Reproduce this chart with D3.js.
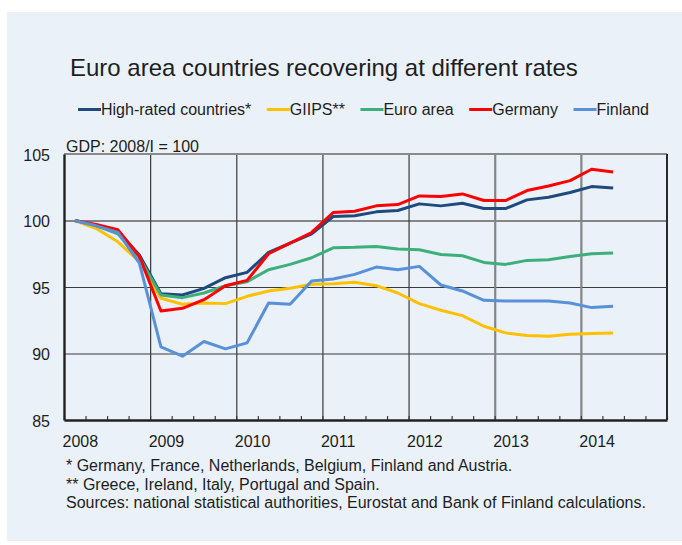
<!DOCTYPE html>
<html>
<head>
<meta charset="utf-8">
<script src="https://cdn.jsdelivr.net/npm/d3@7"></script>
<style>
  body { margin: 0; background: #fff; }
  svg text { font-family: "Liberation Sans", Arial, sans-serif; fill: #1e1e1e; }
</style>
</head>
<body>
<svg id="chart" width="682" height="545"></svg>
<script>
// GDP index, 2008/I = 100, quarterly
const quarters = ["2008Q1","2008Q2","2008Q3","2008Q4","2009Q1","2009Q2","2009Q3","2009Q4",
  "2010Q1","2010Q2","2010Q3","2010Q4","2011Q1","2011Q2","2011Q3","2011Q4",
  "2012Q1","2012Q2","2012Q3","2012Q4","2013Q1","2013Q2","2013Q3","2013Q4","2014Q1","2014Q2"];

const highRated = [100, 99.6, 99.2, 97.4, 94.5, 94.4, 94.9, 95.7, 96.1, 97.6, 98.3, 99.0, 100.3,
  100.35, 100.65, 100.75, 101.25, 101.1, 101.3, 100.9, 100.9, 101.55, 101.75, 102.1, 102.55, 102.45];
const giips = [100, 99.4, 98.4, 96.9, 94.15, 93.7, 93.8, 93.75, 94.3, 94.7, 94.9, 95.2, 95.25,
  95.35, 95.1, 94.55, 93.75, 93.25, 92.85, 92.05, 91.55, 91.35, 91.3, 91.45, 91.5, 91.55];
const euroArea = [100, 99.6, 99.0, 97.2, 94.4, 94.2, 94.55, 95.1, 95.4, 96.3, 96.7, 97.2, 97.95,
  97.98, 98.05, 97.85, 97.8, 97.45, 97.35, 96.85, 96.7, 97.0, 97.05, 97.3, 97.5, 97.55];
const germany = [100, 99.7, 99.3, 97.3, 93.2, 93.4, 94.05, 95.1, 95.5, 97.5, 98.3, 99.1, 100.6,
  100.7, 101.1, 101.2, 101.85, 101.8, 102.0, 101.5, 101.5, 102.25, 102.6, 103.0, 103.85, 103.65];
const finland = [100, 99.6, 99.1, 96.8, 90.5, 89.8, 90.9, 90.35, 90.8, 93.8, 93.7, 95.45, 95.6,
  95.95, 96.5, 96.3, 96.55, 95.15, 94.7, 94.0, 93.95, 93.95, 93.95, 93.8, 93.45, 93.55];

const seriesNames = ["High-rated countries*", "GIIPS**", "Euro area", "Germany", "Finland"];
const seriesColors = ["#1f4a7e", "#ffc000", "#3daf7a", "#ff0000", "#5891d8"];
const yTicks = [85, 90, 95, 100, 105];
const yearLabels = [2008, 2009, 2010, 2011, 2012, 2013, 2014];

const title = "Euro area countries recovering at different rates";
const unitLabel = "GDP: 2008/I = 100";
const notes = [
  "* Germany, France, Netherlands, Belgium, Finland and Austria.",
  "** Greece, Ireland, Italy, Portugal and Spain.",
  "Sources: national statistical authorities, Eurostat and Bank of Finland calculations."
];

const allSeries = [highRated, giips, euroArea, germany, finland];

const svg = d3.select("#chart");
const margin = {top: 154, left: 64, right: 15, bottom: 125};
const width = 682 - margin.left - margin.right,
      height = 545 - margin.top - margin.bottom;
const fontSize = "16px";

// background panel
svg.append("rect")
  .attr("x", 7).attr("y", 12)
  .attr("width", 682 - 7).attr("height", 541 - 12)
  .attr("fill", "#eaf1f8");

svg.append("text")
  .attr("x", 70).attr("y", 76)
  .style("font-size", "24px")
  .text(title);

// legend, laid out left to right
const legend = svg.append("g").attr("transform", "translate(78,115)");
let lx = 0;
seriesNames.forEach(function (name, i) {
  const item = legend.append("g").attr("transform", "translate(" + lx + ",0)");
  item.append("line")
    .attr("x1", 0).attr("x2", 23).attr("y1", -5.5).attr("y2", -5.5)
    .attr("stroke", seriesColors[i]).attr("stroke-width", 3);
  const t = item.append("text")
    .attr("x", 23).attr("y", 0)
    .style("font-size", fontSize)
    .text(name);
  lx += 23 + t.node().getComputedTextLength() + 15.5;
});

svg.append("text")
  .attr("x", 66).attr("y", 152)
  .style("font-size", fontSize)
  .text(unitLabel);

const g = svg.append("g").attr("transform", "translate(" + margin.left + "," + margin.top + ")");

const x = d3.scaleLinear().domain([2008, 2015]).range([0, width]);
const y = d3.scaleLinear().domain([85, 105]).range([height, 0]);

function quarterPos(q) {
  return +q.slice(0, 4) + (+q.slice(5) - 0.5) / 4;
}

// horizontal grid
g.append("g")
  .call(d3.axisLeft(y).tickValues([90, 95, 100]).tickSize(-width).tickFormat(""))
  .call(a => a.select(".domain").remove())
  .selectAll("line")
  .attr("stroke", d => d === 100 ? "#858585" : "#3a3a3a")
  .attr("stroke-width", d => d === 100 ? 2.2 : 1.2);

// vertical grid at each year
g.append("g")
  .attr("transform", "translate(0," + height + ")")
  .call(d3.axisBottom(x).tickValues(yearLabels.slice(1)).tickSize(-height).tickFormat(""))
  .call(a => a.select(".domain").remove())
  .selectAll("line")
  .attr("stroke", d => d >= 2013 ? "#858585" : "#3a3a3a")
  .attr("stroke-width", d => d >= 2013 ? 2.2 : 1.2);

// quarter ticks on the bottom axis
g.append("g")
  .attr("transform", "translate(0," + height + ")")
  .call(d3.axisBottom(x).tickValues(d3.range(2008, 2015.01, 0.25)).tickSize(-4).tickFormat(""))
  .call(a => a.select(".domain").remove())
  .selectAll("line").attr("stroke", "#3a3a3a").attr("stroke-width", 1.2);

// frame
g.append("line").attr("x1", 0).attr("x2", width).attr("y1", 0).attr("y2", 0)
  .attr("stroke", "#8a8a8a").attr("stroke-width", 2);
g.append("line").attr("x1", width).attr("x2", width).attr("y1", 0).attr("y2", height)
  .attr("stroke", "#2a2a2a").attr("stroke-width", 2);

// y labels
g.append("g")
  .call(d3.axisLeft(y).tickValues(yTicks).tickSize(0).tickPadding(14))
  .call(a => a.select(".domain").attr("stroke", "#222").attr("stroke-width", 2.4))
  .selectAll("text")
  .style("font-size", fontSize)
  .attr("fill", "#1e1e1e")
  .attr("dy", "0.4em");

// x labels, placed just right of the year line
g.append("g")
  .attr("transform", "translate(0," + height + ")")
  .call(d3.axisBottom(x).tickValues(yearLabels).tickSize(0).tickPadding(16).tickFormat(d3.format("d")))
  .call(a => a.select(".domain").attr("stroke", "#222").attr("stroke-width", 2.4))
  .selectAll("text")
  .style("font-size", fontSize)
  .attr("fill", "#1e1e1e")
  .attr("text-anchor", "start")
  .attr("dx", -2);

const line = d3.line()
  .x((d, i) => x(quarterPos(quarters[i])))
  .y(d => y(d));

g.selectAll("path.series")
  .data(allSeries)
  .enter().append("path")
  .attr("class", "series")
  .attr("fill", "none")
  .attr("stroke", (d, i) => seriesColors[i])
  .attr("stroke-width", 3)
  .attr("stroke-linejoin", "round")
  .attr("d", line);

// footnotes
svg.append("g").selectAll("text")
  .data(notes).enter()
  .append("text")
  .attr("x", 66)
  .attr("y", (d, i) => 471 + i * 18.5)
  .style("font-size", fontSize)
  .text(d => d);
</script>
</body>
</html>
